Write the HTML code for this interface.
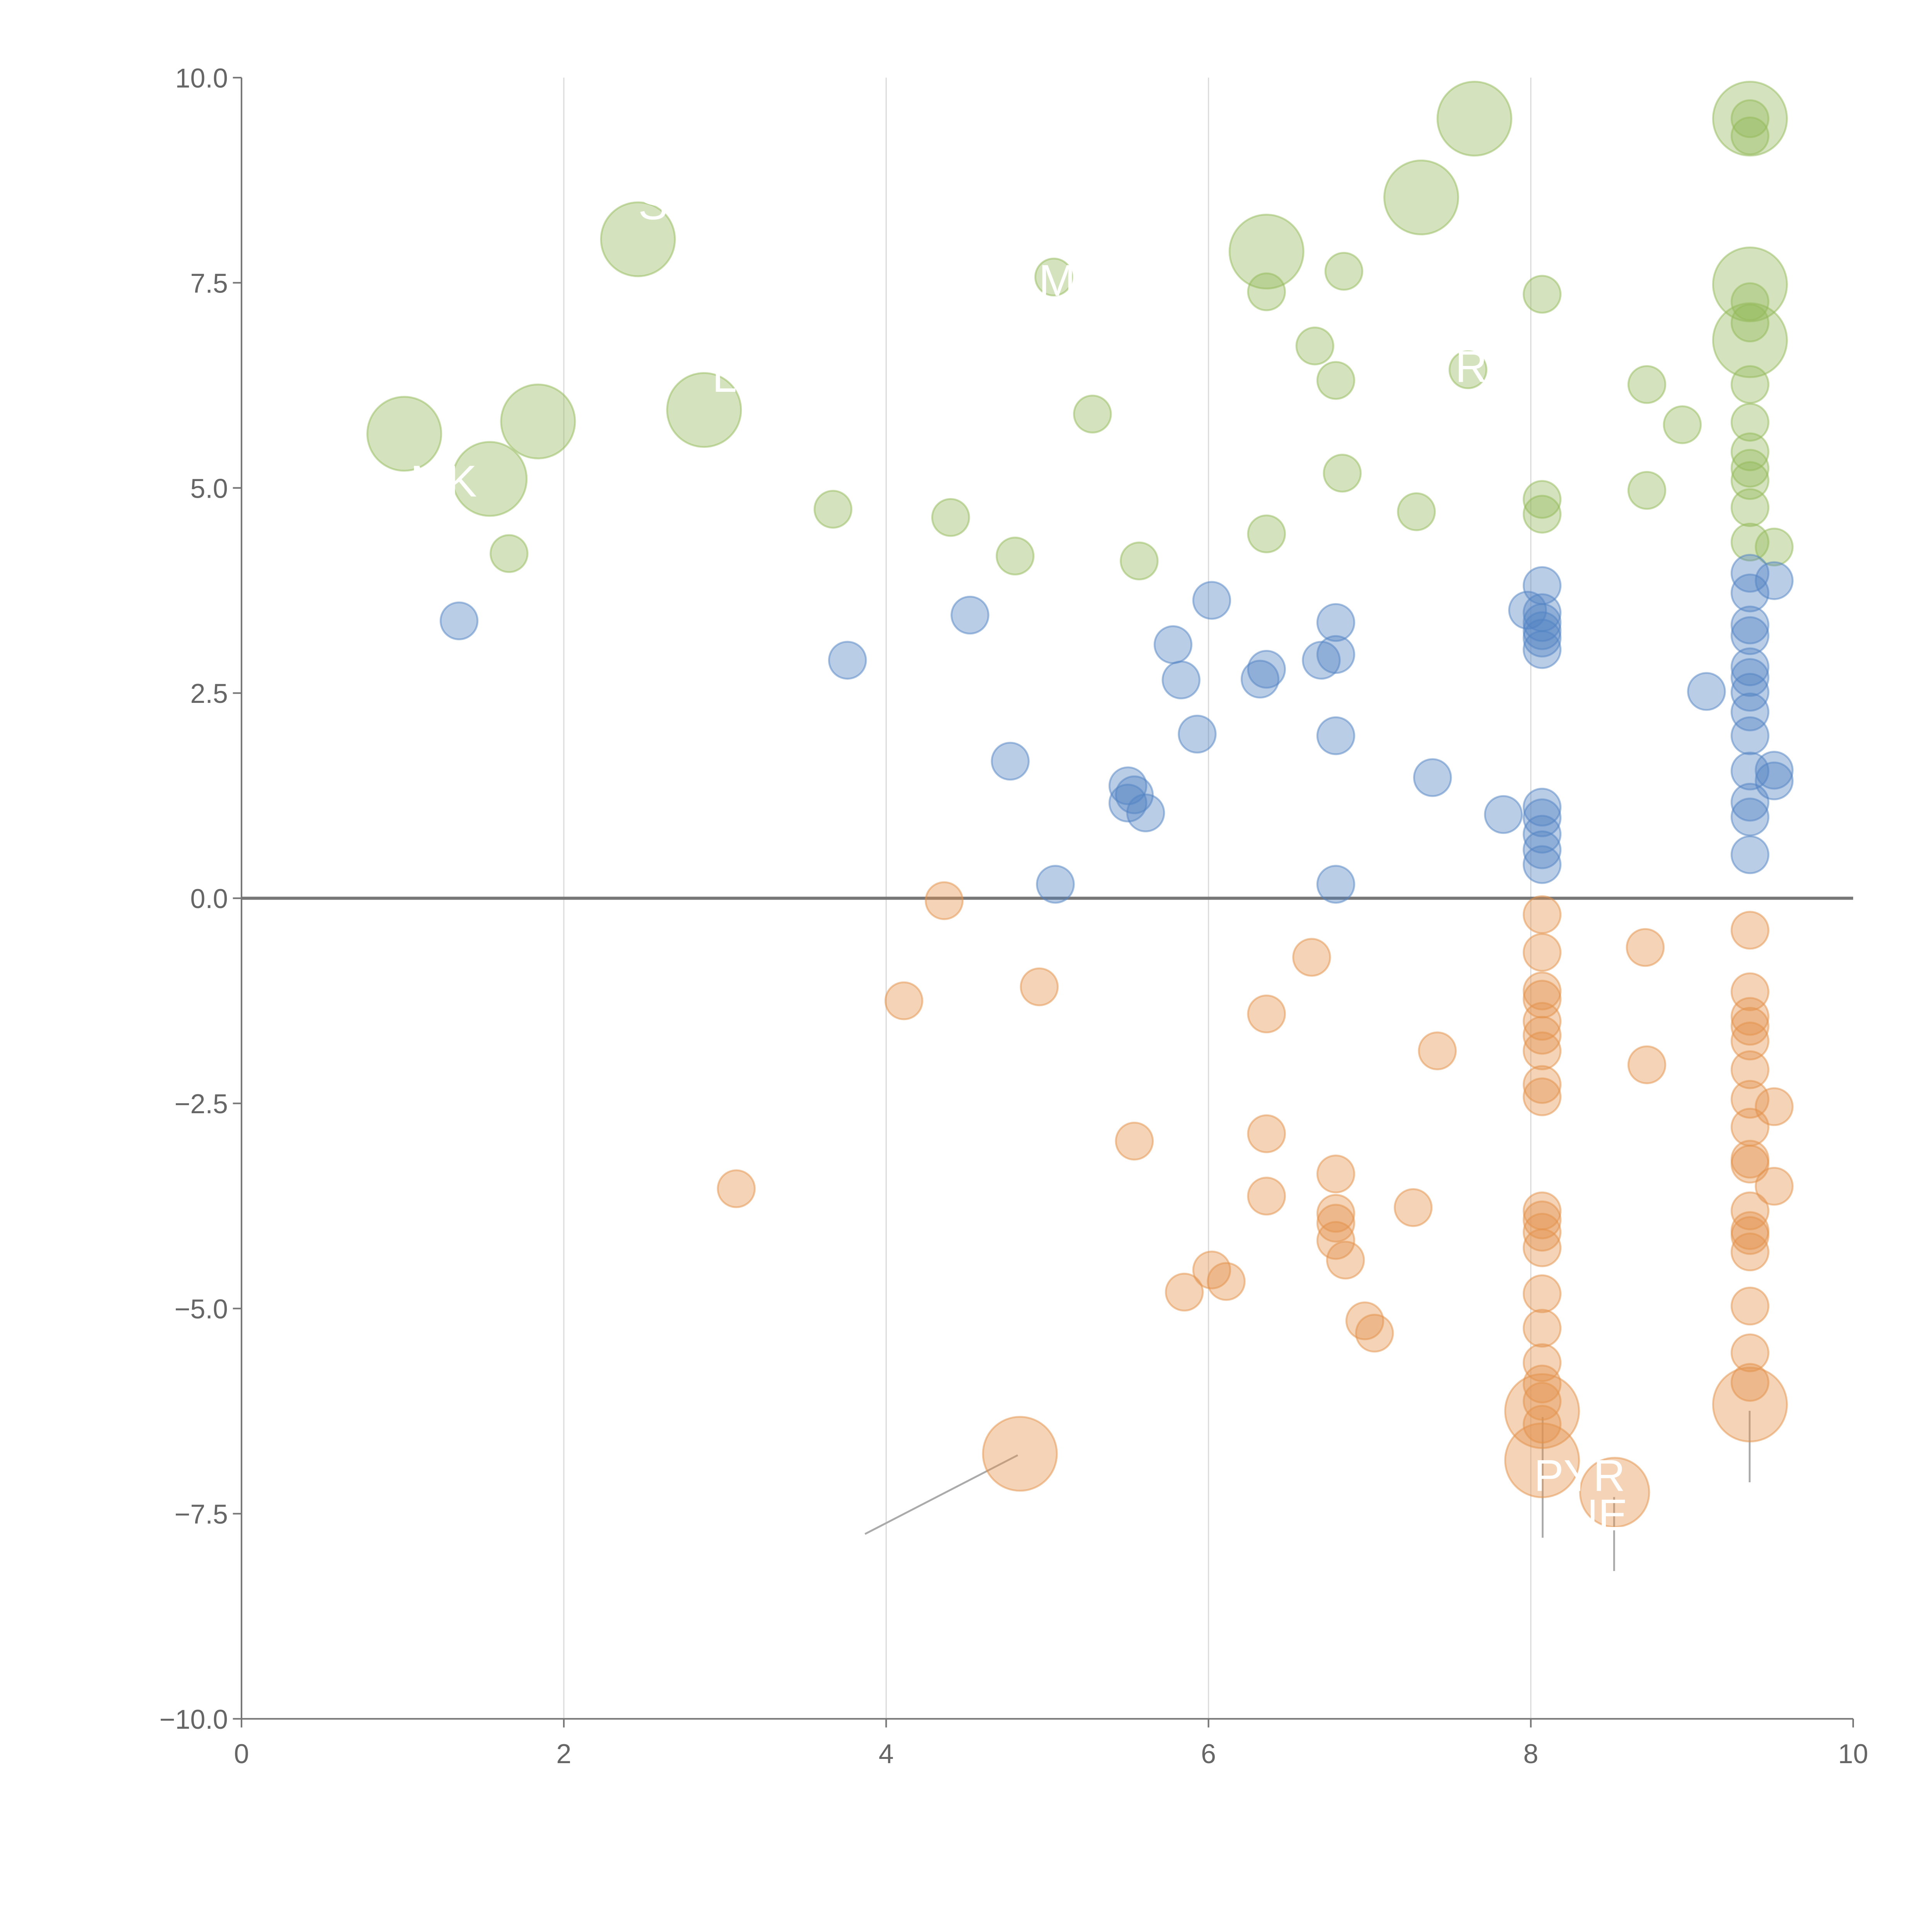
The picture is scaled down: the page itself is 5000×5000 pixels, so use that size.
<!DOCTYPE html>
<html><head><meta charset="utf-8"><style>html,body{margin:0;padding:0;background:#fff}svg{display:block}</style></head>
<body>
<svg id="chart" width="5000" height="5000" viewBox="0 0 1568 1568" xmlns="http://www.w3.org/2000/svg" font-family="Liberation Sans, sans-serif">
<g id="grid"></g>
<g id="axes"></g>
<g id="leaders"></g>
<g id="marks"></g>
<g id="labels"></g>
</svg>
<script>
const xTicks=[0,2,4,6,8,10];
const yTicks=[-10,-7.5,-5,-2.5,0,2.5,5,7.5,10];
const yTickLabels=["\u221210.0","\u22127.5","\u22125.0","\u22122.5","0.0","2.5","5.0","7.5","10.0"];
const greenX=[1.01,1.54,1.84,1.66,2.46,2.87,3.67,4.40,4.80,5.04,5.28,5.57,6.36,6.36,6.36,6.66,6.79,6.84,6.83,7.29,7.32,7.61,7.65,8.07,8.07,8.07,8.72,8.72,8.94,9.36,9.36,9.36,9.36,9.36,9.36,9.36,9.36,9.36,9.36,9.36,9.36,9.36,9.36,9.51];
const greenY=[5.66,5.11,5.81,4.20,8.03,5.95,4.74,4.64,4.17,7.57,5.90,4.11,7.88,7.39,4.44,6.73,6.31,7.64,5.18,4.71,8.54,6.44,9.50,7.36,4.86,4.68,6.26,4.97,5.77,9.50,9.50,9.29,7.48,7.27,7.01,6.80,6.26,5.80,5.44,5.24,5.09,4.76,4.34,4.28];
const greenS=[4,4,4,1,4,4,1,1,1,1,1,1,4,1,1,1,1,1,1,1,4,1,4,1,1,1,1,1,1,4,1,1,4,1,1,4,1,1,1,1,1,1,1,1];
const blueX=[1.35,3.76,4.52,4.77,5.05,5.50,5.50,5.54,5.61,5.78,5.83,5.93,6.02,6.32,6.36,6.70,6.79,6.79,6.79,6.79,7.39,7.83,7.98,8.07,8.07,8.07,8.07,8.07,8.07,8.07,8.07,8.07,8.07,8.07,9.09,9.36,9.36,9.36,9.36,9.36,9.36,9.36,9.36,9.36,9.36,9.36,9.36,9.36,9.51,9.51,9.51];
const blueY=[3.38,2.90,3.45,1.67,0.17,1.37,1.16,1.26,1.04,3.09,2.66,2.00,3.63,2.67,2.79,2.90,3.36,2.97,1.98,0.17,1.47,1.02,3.51,3.81,3.48,3.36,3.26,3.17,3.03,1.11,0.98,0.78,0.59,0.41,2.52,3.96,3.72,3.33,3.20,2.82,2.69,2.51,2.27,1.98,1.55,1.17,0.99,0.53,3.87,1.56,1.43];
const orangeX=[3.07,4.11,4.36,4.95,5.54,5.85,6.02,6.11,6.36,6.36,6.36,6.64,6.79,6.79,6.79,6.79,6.85,6.97,7.03,7.27,7.42,8.07,8.07,8.07,8.07,8.07,8.07,8.07,8.07,8.07,8.07,8.07,8.07,8.07,8.07,8.07,8.07,8.07,8.07,8.07,8.71,8.72,9.36,9.36,9.36,9.36,9.36,9.36,9.36,9.36,9.36,9.36,9.36,9.36,9.36,9.36,9.36,9.36,9.36,9.51,9.51,4.83,8.07,8.07,8.52,9.36];
const orangeY=[-3.54,-1.25,-0.03,-1.08,-2.96,-4.80,-4.53,-4.67,-1.41,-2.87,-3.63,-0.72,-3.36,-3.84,-3.96,-4.17,-4.41,-5.15,-5.30,-3.77,-1.86,-0.20,-0.66,-1.13,-1.23,-1.50,-1.67,-1.86,-2.27,-2.42,-3.81,-3.92,-4.07,-4.26,-4.82,-5.24,-5.66,-5.92,-6.13,-6.41,-0.60,-2.03,-0.39,-1.14,-1.44,-1.56,-1.74,-2.09,-2.45,-2.79,-3.18,-3.24,-3.81,-4.05,-4.11,-4.31,-4.97,-5.54,-5.90,-2.54,-3.51,-6.77,-6.25,-6.85,-7.24,-6.17];
const orangeS=orangeX.map((_,i)=>i>=61?(i===64?3.5:4):1);
const NS="http://www.w3.org/2000/svg";
const X0=196,X1=1504,Y0=1395,Y1=63;
const sx=v=>X0+(v-0)/10*(X1-X0);
const sy=v=>Y0-(v+10)/20*(Y0-Y1);
function mk(tag,attrs,parent){const e=document.createElementNS(NS,tag);for(const k in attrs)e.setAttribute(k,attrs[k]);parent.appendChild(e);return e;}
const grid=document.getElementById('grid'),axes=document.getElementById('axes'),marks=document.getElementById('marks'),leaders=document.getElementById('leaders'),labels=document.getElementById('labels');
xTicks.forEach(t=>{if(t>0&&t<10){const l=mk('line',{x1:sx(t),x2:sx(t),y1:Y1,y2:Y0,stroke:'#dcdcdc','stroke-width':1},grid);

}});
const ax=mk('line',{x1:X0,x2:X0,y1:Y1,y2:Y0,stroke:'#777','stroke-width':1.3},axes);


const bx=mk('line',{x1:X0,x2:X1,y1:Y0,y2:Y0,stroke:'#777','stroke-width':1.3},axes);


const z=mk('line',{x1:X0,x2:X1,y1:sy(0),y2:sy(0),stroke:'#777','stroke-width':2.5},axes);


xTicks.forEach(t=>{const tk=mk('line',{x1:sx(t),x2:sx(t),y1:Y0,y2:Y0+7,stroke:'#777','stroke-width':1.3},axes);


const tx=mk('text',{x:sx(t),y:Y0+36,'text-anchor':'middle','font-size':22,fill:'#666'},axes);tx.textContent=t;

});
yTicks.forEach((t,i)=>{const tk=mk('line',{x1:X0-7,x2:X0,y1:sy(t),y2:sy(t),stroke:'#777','stroke-width':1.3},axes);


const tx=mk('text',{x:X0-11,y:sy(t)+8,'text-anchor':'end','font-size':22,fill:'#666'},axes);tx.textContent=yTickLabels[i];

});
function series(xs,ys,ss,color,name){xs.forEach((x,i)=>{const c=mk('circle',{cx:sx(x),cy:sy(ys[i]),r:15*Math.sqrt(ss?ss[i]:1),fill:color,'fill-opacity':0.4,stroke:color,'stroke-opacity':0.5,'stroke-width':1.5},marks);

});}
series(greenX,greenY,greenS,'#93b95a','green-bubble');
series(blueX,blueY,null,'#5283c4','blue-bubble');
series(orangeX,orangeY,orangeS,'#e3924a','orange-bubble');
[[702,1245,826,1181],[1252,1150,1252,1248],[1310,1215,1310,1275],[1420,1145,1420,1203]].forEach(a=>{const l=mk('line',{x1:a[0],y1:a[1],x2:a[2],y2:a[3],stroke:'#aaa','stroke-width':1.5},leaders);

});
[["MK",360,403],["M",858,240],["R",1194,310],["S",530,178],["L",588,318],["PYR",1282,1210],["NE",1296,1242]].forEach(a=>{const t=mk('text',{x:a[1],y:a[2],'font-size':36,fill:'#fff','text-anchor':'middle'},labels);t.textContent=a[0];

});
</script>
</body></html>
